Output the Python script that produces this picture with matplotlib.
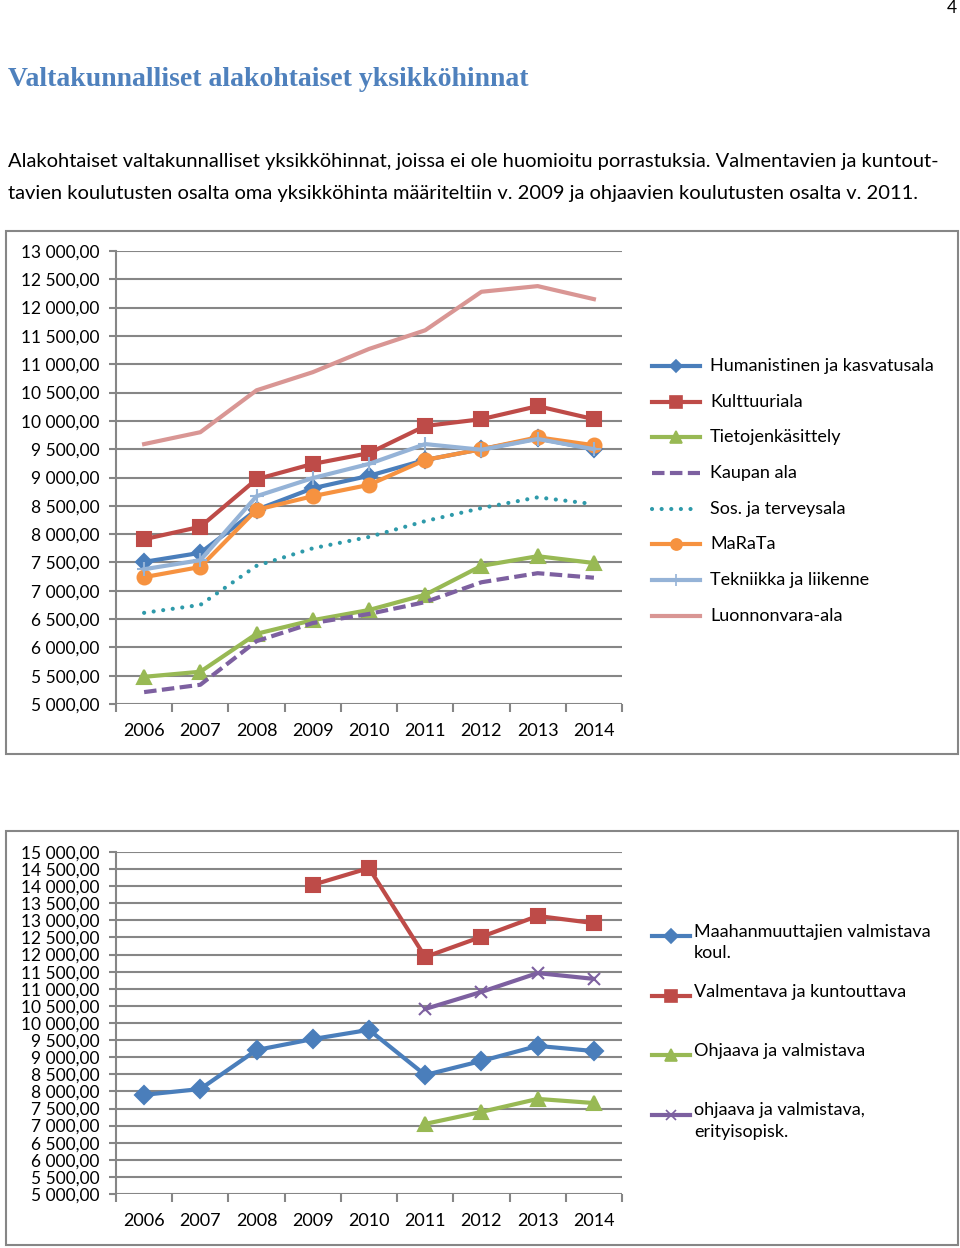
import matplotlib
matplotlib.use("Agg")
import matplotlib.pyplot as plt
from matplotlib.lines import Line2D
from matplotlib.patches import Rectangle
from matplotlib.ticker import FuncFormatter, MultipleLocator

# data, chart 1
years = ["2006", "2007", "2008", "2009", "2010", "2011", "2012", "2013", "2014"]
humanistinen = [7510, 7670, 8430, 8810, 9030, 9310, 9500, 9690, 9500]
kulttuuri = [7910, 8130, 8970, 9240, 9430, 9910, 10030, 10260, 10030]
tieto = [5480, 5570, 6240, 6480, 6660, 6930, 7440, 7610, 7490]
kauppa = [5210, 5340, 6110, 6430, 6590, 6800, 7150, 7310, 7230]
sos = [6610, 6750, 7440, 7750, 7950, 8230, 8460, 8650, 8530]
marata = [7240, 7420, 8430, 8670, 8870, 9310, 9500, 9710, 9570]
tekniikka = [7380, 7540, 8670, 8990, 9240, 9590, 9490, 9680, 9500]
luonnonvara = [9590, 9800, 10540, 10860, 11270, 11600, 12280, 12380, 12150]

# data, chart 2 (None = no value that year)
maahanmuutto = [7900, 8070, 9210, 9530, 9800, 8480, 8890, 9330, 9180]
valmentava = [None, None, None, 14040, 14530, 11930, 12520, 13130, 12920]
ohjaava = [None, None, None, None, None, 7050, 7400, 7780, 7660]
ohjaava_eri = [None, None, None, None, None, 10410, 10910, 11460, 11290]

W, H = 960, 1248
body = ["Lato", "DejaVu Sans"]
grid_c = "#868686"
dash = (0, (3, 1.3))
dots = (0, (0.01, 2.3))


def fx(x):
    return x / W


def fy(y):
    return 1 - y / H


def fmt(v, pos):
    return f"{v:,.2f}".replace(",", " ").replace(".", ",")


def setup_axes(ax, lo, hi, step):
    ax.set_xlim(-0.5, len(years) - 0.5)
    ax.set_ylim(lo, hi)
    ax.yaxis.set_major_locator(MultipleLocator(step))
    ax.yaxis.set_major_formatter(FuncFormatter(fmt))
    ax.set_xticks(range(len(years)))
    ax.set_xticklabels(years)
    ax.set_xticks([i - 0.5 for i in range(len(years) + 1)], minor=True)
    ax.tick_params(axis="x", which="major", length=0, pad=14, labelsize=13)
    ax.tick_params(axis="x", which="minor", length=6, color=grid_c, width=1.5, direction="out")
    ax.tick_params(axis="y", length=5, color=grid_c, width=1.5, labelsize=12.5, pad=7)
    for lab in ax.get_xticklabels() + ax.get_yticklabels():
        lab.set_family(body)
    for side in ["top", "right"]:
        ax.spines[side].set_visible(False)
    ax.spines["bottom"].set_visible(False)
    ax.spines["left"].set_color(grid_c)
    ax.spines["left"].set_linewidth(1.5)
    ax.grid(axis="y", color=grid_c, lw=1.5)
    ax.set_axisbelow(True)
    ax.set_facecolor("none")


def legend_line(fig, y, x0, x1, color, ls="-", marker=None, ms=8):
    fig.add_artist(Line2D([fx(x0), fx(x1)], [fy(y), fy(y)], transform=fig.transFigure,
                          color=color, lw=3, ls=ls, dash_capstyle="round" if ls == dots else "butt"))
    if marker:
        fig.add_artist(Line2D([fx((x0 + x1) / 2)], [fy(y)], transform=fig.transFigure,
                              color=color, marker=marker, ms=ms, mew=1.2, ls="none"))


fig = plt.figure(figsize=(9.6, 12.48), dpi=100)

fig.text(fx(952), fy(8), "4", fontsize=12.5, family=body, ha="center", va="center")
fig.text(fx(8), fy(80), "Valtakunnalliset alakohtaiset yksikköhinnat", fontsize=20,
         family="Liberation Serif", weight="bold", color="#4F81BD", va="center")
fig.text(fx(8), fy(162), "Alakohtaiset valtakunnalliset yksikköhinnat, joissa ei ole huomioitu "
         "porrastuksia. Valmentavien ja kuntout-", fontsize=14.5, family=body, va="center")
fig.text(fx(8), fy(193), "tavien koulutusten osalta oma yksikköhinta määriteltiin v. 2009 ja "
         "ohjaavien koulutusten osalta v. 2011.", fontsize=14.5, family=body, va="center")

for (y0, y1) in [(231, 754), (831, 1245)]:
    fig.add_artist(Rectangle((fx(6), fy(y1)), fx(958) - fx(6), fy(y0) - fy(y1),
                             transform=fig.transFigure, fill=False, ec=grid_c, lw=1.5))

# chart 1
ax1 = fig.add_axes([fx(116), fy(704), fx(622) - fx(116), fy(251) - fy(704)])
setup_axes(ax1, 5000, 13000, 500)
x = range(len(years))
series1 = [
    ("Humanistinen ja kasvatusala", humanistinen, "#4A7EBB", "-", "D", 8),
    ("Kulttuuriala", kulttuuri, "#BE4B48", "-", "s", 10),
    ("Tietojenkäsittely", tieto, "#98B954", "-", "^", 10),
    ("Kaupan ala", kauppa, "#7D60A0", dash, None, 0),
    ("Sos. ja terveysala", sos, "#2E9AAA", dots, None, 0),
    ("MaRaTa", marata, "#F69240", "-", "o", 10),
    ("Tekniikka ja liikenne", tekniikka, "#95B3D7", "-", "+", 10),
    ("Luonnonvara-ala", luonnonvara, "#D99694", "-", None, 0),
]
for i, (name, vals, c, ls, m, ms) in enumerate(series1):
    ax1.plot(x, vals, color=c, lw=3, ls=ls, marker=m, ms=ms, mew=1.5,
             dash_capstyle="round" if ls == dots else "butt",
             clip_on=False, zorder=3 + i)
    y = 366 + i * 35.7
    legend_line(fig, y, 652, 700, c, ls=ls, marker=m, ms=ms * 0.8)
    fig.text(fx(710), fy(y), name, fontsize=13, family=body, va="center", ha="left")

# chart 2
ax2 = fig.add_axes([fx(116), fy(1194), fx(622) - fx(116), fy(852) - fy(1194)])
setup_axes(ax2, 5000, 15000, 500)
series2 = [
    ("Maahanmuuttajien valmistava\nkoul.", maahanmuutto, "#4A7EBB", "D", 9),
    ("Valmentava ja kuntouttava", valmentava, "#BE4B48", "s", 10),
    ("Ohjaava ja valmistava", ohjaava, "#98B954", "^", 10),
    ("ohjaava ja valmistava,\nerityisopisk.", ohjaava_eri, "#7D60A0", "x", 9),
]
for i, (name, vals, c, m, ms) in enumerate(series2):
    vv = [v if v is not None else float("nan") for v in vals]
    ax2.plot(x, vv, color=c, lw=3, marker=m, ms=ms, mew=1.5, clip_on=False, zorder=3 + i)
    y = 936 + i * 59.5
    legend_line(fig, y, 652, 690, c, marker=m, ms=ms * 0.8)
    fig.text(fx(694), fy(y - 12), name, fontsize=13, family=body, va="top", ha="left",
             linespacing=1.4)

fig.savefig("out.png", dpi=100)
